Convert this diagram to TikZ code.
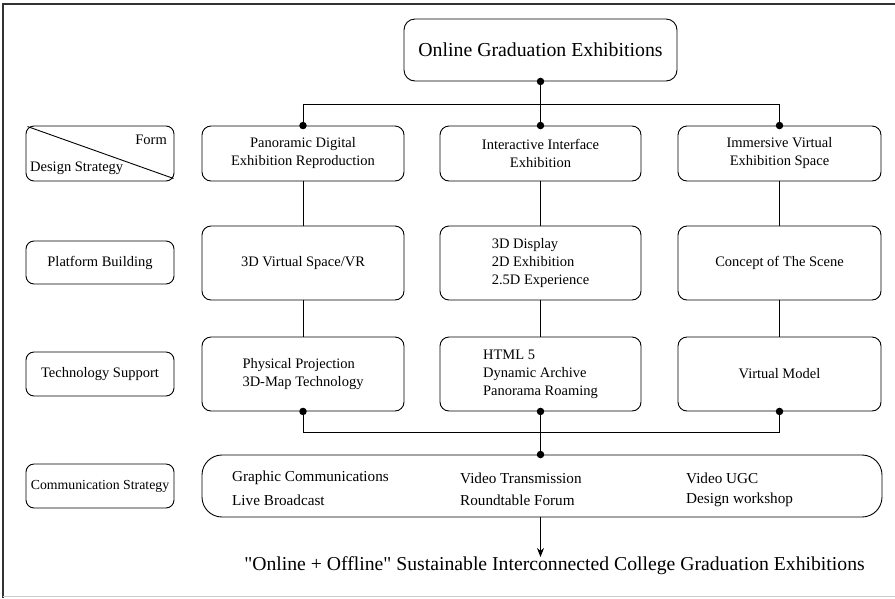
\documentclass[tikz,border=0pt]{standalone}
\usepackage{fontspec}
\setmainfont{Liberation Serif}[Ligatures=TeXOff]
\usetikzlibrary{arrows.meta}
\tikzset{
  box/.style={draw, line width=0.9pt, rounded corners=9pt, inner sep=0pt, font=\fontsize{14.5}{18}\selectfont},
  labelbox/.style={draw, line width=0.9pt, rounded corners=8pt, inner sep=0pt, minimum width=148pt, font=\fontsize{14.5}{17}\selectfont},
  link/.style={line width=0.9pt},
  dot/.style={circle, fill=black, inner sep=0pt, minimum size=7.5pt},
  commtext/.style={anchor=west, inner sep=0pt, font=\fontsize{15.2}{18}\selectfont},
}
\begin{document}
\begin{tikzpicture}[x=1pt, y=-1pt]
\useasboundingbox (0,0) rectangle (895,598);
% frame
\draw[line width=1.4pt, black!80] (3,598) -- (3,4) -- (895,4);
\draw[line width=1pt, black!20] (3,596) -- (895,596);

% title
\node[box, rounded corners=11pt, minimum width=273pt, minimum height=62pt, font=\fontsize{19.8}{22}\selectfont] (title) at (540.5,50) {Online Graduation Exhibitions};

% row labels
\node[labelbox, minimum height=55pt] (form) at (100,153.5) {};
\draw[link] ([xshift=2pt,yshift=-1pt]form.north west) -- ([xshift=-1pt,yshift=3pt]form.south east);
\node[anchor=east, inner sep=0pt, font=\fontsize{14.5}{17}\selectfont] (formtxt) at (167,140) {Form};
\node[anchor=west, inner sep=0pt, font=\fontsize{14.5}{17}\selectfont] (dstxt) at (30,168) {Design Strategy};
\node[labelbox, minimum height=43pt] (platform) at (100,262.5) {Platform Building};
\node[labelbox, minimum height=44pt] (tech) at (100,374) {Technology Support};
\node[labelbox, minimum height=44pt, font=\fontsize{13.8}{17}\selectfont] (commlab) at (100,486) {Communication Strategy};

% forms
\node[box, minimum width=202pt, minimum height=55pt, align=center] (f1) at (303,153.5) {Panoramic Digital\\Exhibition Reproduction};
\node[box, minimum width=201pt, minimum height=55pt, align=center] (f2) at (540.5,153.5) {Interactive Interface\\Exhibition};
\node[box, minimum width=203pt, minimum height=55pt, align=center] (f3) at (779.5,153.5) {Immersive Virtual\\Exhibition Space};

% platform building
\node[box, minimum width=202pt, minimum height=74pt] (p1) at (303,263) {3D Virtual Space/VR};
\node[box, minimum width=201pt, minimum height=74pt, align=left] (p2) at (540.5,263) {3D Display\\2D Exhibition\\2.5D Experience};
\node[box, minimum width=203pt, minimum height=74pt] (p3) at (779.5,263) {Concept of The Scene};

% technology support
\node[box, minimum width=202pt, minimum height=74pt, align=left] (t1) at (303,374) {Physical Projection\\3D-Map Technology};
\node[box, minimum width=201pt, minimum height=74pt, align=left] (t2) at (540.5,374) {HTML 5\\Dynamic Archive\\Panorama Roaming};
\node[box, minimum width=203pt, minimum height=74pt] (t3) at (779.5,374) {Virtual Model};

% communication strategy
\node[box, rounded corners=20pt, minimum width=680pt, minimum height=62pt] (comm) at (542,486) {};
\node[commtext] (c11) at (232,478) {Graphic Communications};
\node[commtext] (c12) at (232,500) {Live Broadcast};
\node[commtext] (c21) at (460,478) {Video Transmission};
\node[commtext] (c22) at (460,500) {Roundtable Forum};
\node[commtext] (c31) at (686,478) {Video UGC};
\node[commtext] (c32) at (686,500) {Design workshop};

% outcome
\node[inner sep=0pt, font=\fontsize{19.7}{22}\selectfont] (goal) at (554.5,566) {"Online + Offline" Sustainable Interconnected College Graduation Exhibitions};

% top branching
\coordinate (jl) at (f1.north |- 0,104);
\coordinate (jr) at (f3.north |- 0,104);
\draw[link] (title.south) -- (f2.north);
\draw[link] (f1.north) -- (jl) -- (jr) -- (f3.north);
\node[dot] at (title.south) {};
\node[dot] at (f1.north) {};
\node[dot] at (f2.north) {};
\node[dot] at (f3.north) {};

% columns
\draw[link] (f1) -- (p1);
\draw[link] (f2) -- (p2);
\draw[link] (f3) -- (p3);
\draw[link] (p1) -- (t1);
\draw[link] (p2) -- (t2);
\draw[link] (p3) -- (t3);

% bottom merging
\coordinate (bl) at (t1.south |- 0,432);
\coordinate (br) at (t3.south |- 0,432);
\draw[link] (t1.south) -- (bl) -- (br) -- (t3.south);
\draw[link] (t2.south) -- (t2.south |- comm.north);
\node[dot] at (t1.south) {};
\node[dot] at (t2.south) {};
\node[dot] at (t3.south) {};
\node[dot] at (t2.south |- comm.north) {};

% outcome arrow
\draw[link, -{Stealth[length=9pt, width=7pt]}] (t2.south |- comm.south) -- (t2.south |- 0,557);
\end{tikzpicture}
\end{document}
